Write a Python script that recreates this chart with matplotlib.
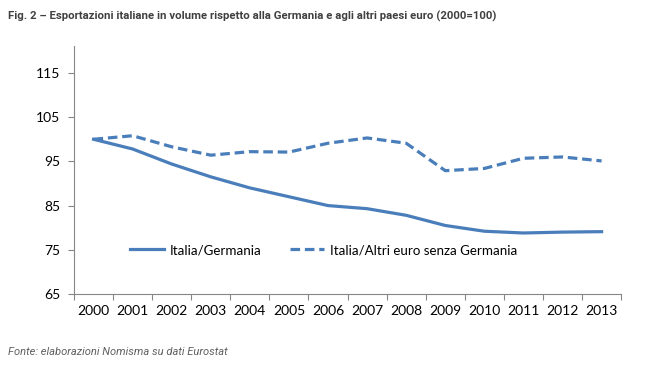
import matplotlib
matplotlib.use("Agg")
import matplotlib.pyplot as plt

anni = ["2000", "2001", "2002", "2003", "2004", "2005", "2006",
        "2007", "2008", "2009", "2010", "2011", "2012", "2013"]
italia_germania = [100.0, 97.8, 94.4, 91.5, 89.0, 87.0, 85.0,
                   84.3, 82.8, 80.5, 79.2, 78.8, 79.0, 79.1]
italia_altri = [100.0, 100.8, 98.3, 96.4, 97.2, 97.1, 99.1,
                100.3, 99.1, 92.9, 93.4, 95.7, 96.0, 95.1]
y_ticks = [65, 75, 85, 95, 105, 115]

BLU = "#4A7EBB"
GRIGIO = "#868686"
FONT = ["Lato", "DejaVu Sans"]
FONT_TITOLO = ["Roboto", "Liberation Sans", "DejaVu Sans"]

fig = plt.figure(figsize=(6.47, 3.70), dpi=100)
ax = fig.add_axes([0.1144, 0.2054, 0.8456, 0.6703])

x = list(range(len(anni)))
ax.plot(x, italia_germania, color=BLU, linewidth=2.3, label="Italia/Germania",
        solid_joinstyle="round")
ax.plot(x, italia_altri, color=BLU, linewidth=2.3, linestyle=(0, (3, 1.5)),
        label="Italia/Altri euro senza Germania")

ax.set_xlim(-0.5, len(anni) - 0.5)
ax.set_ylim(65, 121.1)

# tick x ai bordi delle categorie, etichette al centro
ax.set_xticks([i - 0.5 for i in range(len(anni) + 1)])
ax.set_xticklabels([])
ax.set_xticks(x, minor=True)
ax.set_xticklabels(anni, minor=True, fontsize=10, family=FONT, color="#000000")
ax.tick_params(axis="x", which="major", length=4, color=GRIGIO, direction="out")
ax.tick_params(axis="x", which="minor", length=0, pad=8)

ax.set_yticks(y_ticks)
ax.set_yticklabels([str(v) for v in y_ticks], fontsize=10, family=FONT)
ax.tick_params(axis="y", length=4, color=GRIGIO, pad=6)

for lato in ["top", "right"]:
    ax.spines[lato].set_visible(False)
for lato in ["left", "bottom"]:
    ax.spines[lato].set_color(GRIGIO)
    ax.spines[lato].set_linewidth(0.8)

ax.legend(loc="center left", bbox_to_anchor=(0.08, 0.177), ncol=2,
          frameon=False, handlelength=2.6, handletextpad=0.4,
          columnspacing=2.1, prop={"family": FONT, "size": 9.6})

fig.text(0.012, 0.955,
         "Fig. 2 – Esportazioni italiane in volume rispetto alla Germania e agli altri paesi euro (2000=100)",
         fontsize=8.2, fontweight="bold", color="#404040", family=FONT_TITOLO,
         va="center", ha="left")
fig.text(0.012, 0.048, "Fonte: elaborazioni Nomisma su dati Eurostat",
         fontsize=8.0, style="italic", color="#606060", family=FONT_TITOLO,
         va="center", ha="left")

fig.savefig("out.png", dpi=100)
